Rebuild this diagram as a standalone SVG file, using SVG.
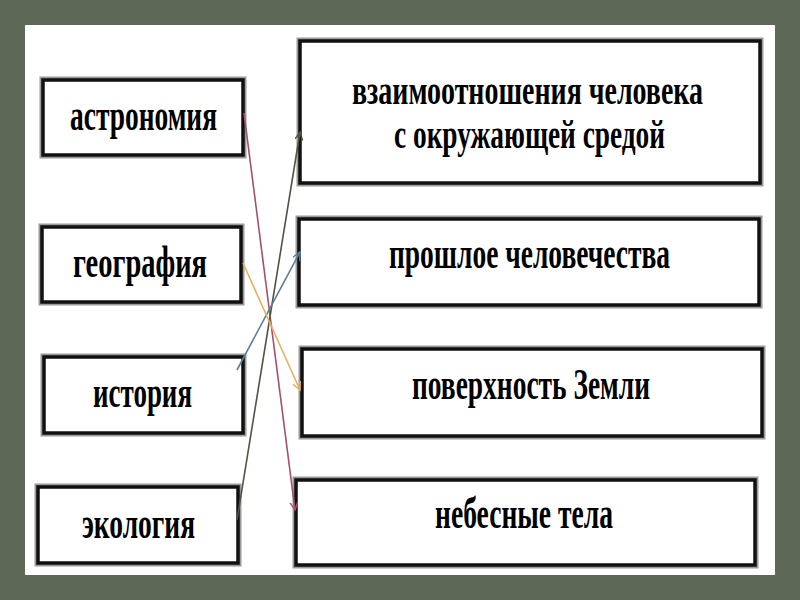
<svg xmlns="http://www.w3.org/2000/svg" width="800" height="600" viewBox="0 0 800 600">
<defs>
<style>
.box-shadow{fill:none;stroke:#9a9a9a;stroke-width:7}
.box{fill:#ffffff;stroke:#111111;stroke-width:3.5}
.lbl{font-family:"Liberation Serif","Times New Roman",serif;font-weight:bold;font-size:30px;fill:#000000;text-anchor:start}
.conn{fill:none;stroke-width:1.6}
</style>
<marker id="arPink" markerWidth="10" markerHeight="10" refX="8" refY="4" orient="auto" markerUnits="userSpaceOnUse"><path d="M0,0 L8,4 L0,8" fill="none" stroke="#a5506e" stroke-width="1.4"/></marker>
<marker id="arOlive" markerWidth="10" markerHeight="10" refX="8" refY="4" orient="auto" markerUnits="userSpaceOnUse"><path d="M0,0 L8,4 L0,8" fill="none" stroke="#4f5540" stroke-width="1.4"/></marker>
<marker id="arBlue" markerWidth="10" markerHeight="10" refX="8" refY="4" orient="auto" markerUnits="userSpaceOnUse"><path d="M0,0 L8,4 L0,8" fill="none" stroke="#5b7d98" stroke-width="1.4"/></marker>
<marker id="arOrange" markerWidth="10" markerHeight="10" refX="8" refY="4" orient="auto" markerUnits="userSpaceOnUse"><path d="M0,0 L8,4 L0,8" fill="none" stroke="#e2b264" stroke-width="1.4"/></marker>
</defs>
<rect x="0" y="0" width="800" height="600" fill="#5e6856"/>
<rect x="25" y="25" width="750" height="550" fill="#ffffff"/>

<g id="n-astronomy">
<rect class="box-shadow" x="43" y="80" width="200" height="75"/>
<rect class="box" x="43" y="80" width="200" height="75"/>
<text class="lbl" transform="translate(70,130) scale(1,1.5)" textLength="147" lengthAdjust="spacingAndGlyphs">астрономия</text>
</g>
<g id="n-geography">
<rect class="box-shadow" x="42" y="227" width="199" height="75"/>
<rect class="box" x="42" y="227" width="199" height="75"/>
<text class="lbl" transform="translate(73,277) scale(1,1.5)" textLength="134" lengthAdjust="spacingAndGlyphs">география</text>
</g>
<g id="n-history">
<rect class="box-shadow" x="44" y="357" width="199" height="76"/>
<rect class="box" x="44" y="357" width="199" height="76"/>
<text class="lbl" transform="translate(93,407) scale(1,1.5)" textLength="99" lengthAdjust="spacingAndGlyphs">история</text>
</g>
<g id="n-ecology">
<rect class="box-shadow" x="38" y="487" width="200" height="76"/>
<rect class="box" x="38" y="487" width="200" height="76"/>
<text class="lbl" transform="translate(82,538) scale(1,1.5)" textLength="113" lengthAdjust="spacingAndGlyphs">экология</text>
</g>

<g id="n-relations">
<rect class="box-shadow" x="300" y="41" width="460" height="142"/>
<rect class="box" x="300" y="41" width="460" height="142"/>
<text class="lbl" transform="translate(352,104) scale(1,1.3)" textLength="351" lengthAdjust="spacingAndGlyphs">взаимоотношения человека</text>
<text class="lbl" transform="translate(394,148) scale(1,1.3)" textLength="271" lengthAdjust="spacingAndGlyphs">с окружающей средой</text>
</g>
<g id="n-past">
<rect class="box-shadow" x="299" y="219" width="460" height="86"/>
<rect class="box" x="299" y="219" width="460" height="86"/>
<text class="lbl" transform="translate(389,268) scale(1,1.5)" textLength="281" lengthAdjust="spacingAndGlyphs">прошлое человечества</text>
</g>
<g id="n-surface">
<rect class="box-shadow" x="302" y="349" width="460" height="87"/>
<rect class="box" x="302" y="349" width="460" height="87"/>
<text class="lbl" transform="translate(412,399) scale(1,1.5)" textLength="238" lengthAdjust="spacingAndGlyphs">поверхность Земли</text>
</g>
<g id="n-bodies">
<rect class="box-shadow" x="296" y="480" width="459" height="85"/>
<rect class="box" x="296" y="480" width="459" height="85"/>
<text class="lbl" transform="translate(435,528) scale(1,1.5)" textLength="178" lengthAdjust="spacingAndGlyphs">небесные тела</text>
</g>

<g id="connectors">
<line class="conn" x1="244" y1="113" x2="295" y2="510" stroke="#a5506e" marker-end="url(#arPink)"/>
<line class="conn" x1="237" y1="520" x2="300" y2="132" stroke="#4f5540" marker-end="url(#arOlive)"/>
<line class="conn" x1="237" y1="370" x2="300" y2="252" stroke="#5b7d98" marker-end="url(#arBlue)"/>
<line class="conn" x1="243" y1="263" x2="300" y2="390" stroke="#e2b264" marker-end="url(#arOrange)"/>
</g>
</svg>
